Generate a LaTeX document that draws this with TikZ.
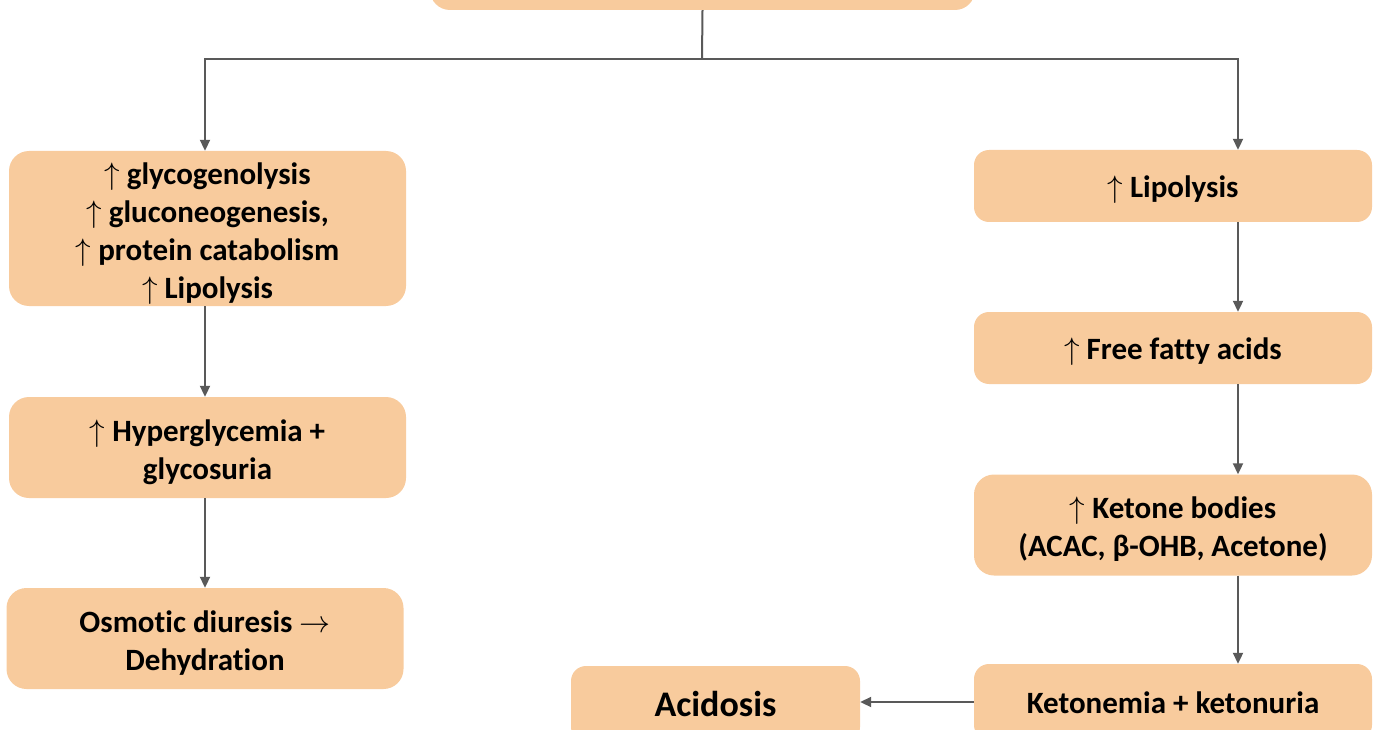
\RequirePackage{fix-cm}
\documentclass[tikz,border=0pt]{standalone}
\usepackage{fontspec}
\setmainfont{Carlito}[RawFeature=-liga]
\usetikzlibrary{arrows.meta}
\definecolor{boxfill}{HTML}{F8CB9D}
\definecolor{linegray}{HTML}{595959}
\newcommand\upar{$\uparrow$}
\newcommand\rar{$\rightarrow$}
\tikzset{
  box/.style={fill=boxfill, draw=none, rounded corners=20pt, inner sep=0pt},
  txt/.style={align=center, font=\fontsize{31}{38}\selectfont\bfseries, inner sep=0pt},
  conn/.style={draw=linegray, line width=2pt},
  arr/.style={conn, -{Triangle[length=11pt,width=10pt]}}
}
\begin{document}
\begin{tikzpicture}[x=1pt,y=-1pt]
\useasboundingbox (0,0) rectangle (1376,730);
\node[box, minimum width=545pt, minimum height=60pt] (top) at (702.5,-20) {};
\node[box, minimum width=397pt, minimum height=155pt] (L1) at (207.5,228.5) {};
\node[box, minimum width=397pt, minimum height=101pt] (L2) at (207.5,447.5) {};
\node[box, minimum width=397pt, minimum height=101pt] (L3) at (205,638.5) {};
\node[box, minimum width=398pt, minimum height=72pt, rounded corners=15pt] (R1) at (1173,186) {};
\node[box, minimum width=398pt, minimum height=72pt, rounded corners=15pt] (R2) at (1173,348) {};
\node[box, minimum width=398pt, minimum height=101pt] (R3) at (1173,525) {};
\node[box, minimum width=398pt, minimum height=76pt, rounded corners=15pt] (R4) at (1173,702) {};
\node[box, minimum width=289pt, minimum height=76pt, rounded corners=15pt] (A) at (715.5,704) {};
\node[txt] (L1t) at ([yshift=-5pt]L1.center)
  {\upar{} glycogenolysis\\ \upar{} gluconeogenesis,\\ \upar{} protein catabolism\\ \upar{} Lipolysis};
\node[txt] (L2t) at ([yshift=-5pt]L2.center) {\upar{} Hyperglycemia +\\ glycosuria};
\node[txt] (L3t) at ([yshift=-4.5pt]L3.center) {Osmotic diuresis \rar\\ Dehydration};
\node[txt] (R1t) at ([yshift=-4pt]R1.center) {\upar{} Lipolysis};
\node[txt] (R2t) at ([yshift=-4pt]R2.center) {\upar{} Free fatty acids};
\node[txt] (R3t) at ([yshift=-4pt]R3.center) {\upar{} Ketone bodies\\ (ACAC, β-OHB, Acetone)};
\node[txt] (R4t) at ([yshift=-1pt]R4.center) {Ketonemia + ketonuria};
\node[txt, font=\fontsize{36}{40}\selectfont\bfseries] (At) at ([yshift=0pt]A.center) {Acidosis};
\coordinate (j) at (702,59);
\coordinate (lx) at (205,0);
\coordinate (rx) at (1238,0);
\draw[conn] (top.south) -- (j);
\draw[arr] (j) -| (lx |- L1.north);
\draw[arr] (j) -| (rx |- R1.north);
\draw[arr] (lx |- L1.south) -- (lx |- L2.north);
\draw[arr] (lx |- L2.south) -- (lx |- L3.north);
\draw[arr] (rx |- R1.south) -- (rx |- R2.north);
\draw[arr] (rx |- R2.south) -- (rx |- R3.north);
\draw[arr] (rx |- R3.south) -- (rx |- R4.north);
\draw[arr] (R4.west) -- (A.east |- R4.west);
\end{tikzpicture}
\end{document}
